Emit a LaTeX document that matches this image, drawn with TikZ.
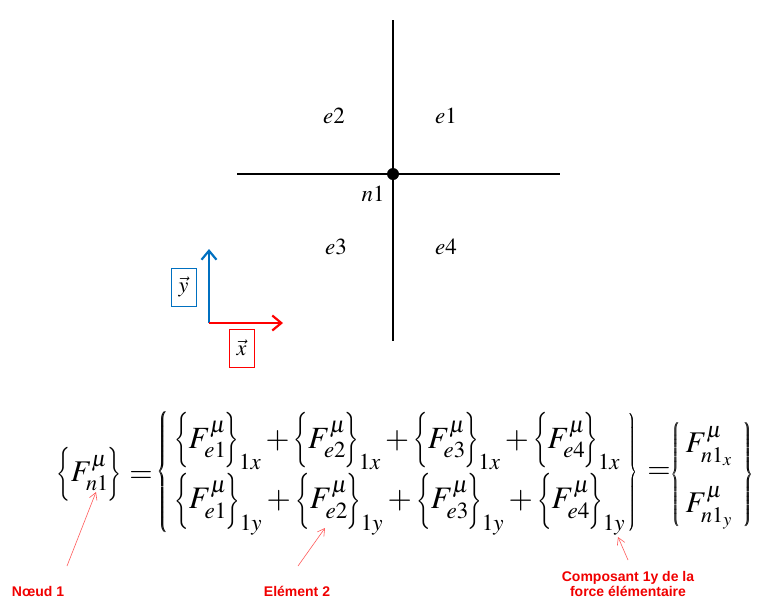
\documentclass[tikz,border=0pt]{standalone}
\usepackage{mathptmx}
\usepackage{graphicx}
\usepackage{fontspec}
\setmainfont{Liberation Serif}
\newfontfamily\notefont{Liberation Sans}
\usetikzlibrary{arrows.meta}
\definecolor{axblue}{RGB}{0,112,192}
\definecolor{axred}{RGB}{255,0,0}
\definecolor{notered}{RGB}{240,0,0}
\definecolor{ptrred}{RGB}{255,90,90}
\newcommand\lbr{\mathopen{\scalebox{0.7}[1]{$\Bigl\{$}}}
\newcommand\rbr{\mathclose{\scalebox{0.7}[1]{$\Bigr\}$}}}
\newcommand\eterm[2]{\lbr F^{\mu}_{#1}\mkern-1mu\rbr_{#2}}
\newcommand\lbrglyph{$\left\{\vrule height 50pt depth 50pt width 0pt\right.$}
\newcommand\rbrglyph{$\left.\vrule height 50pt depth 50pt width 0pt\right\}$}
\newcommand\bigbrace[3]{\resizebox*{#2}{#3}{\fontsize{15}{18}\selectfont\rlap{\lbrglyph}\kern1.1pt\lbrglyph}}
\newcommand\bigrbrace[3]{\resizebox*{#2}{#3}{\fontsize{15}{18}\selectfont\rlap{\rbrglyph}\kern1.1pt\rbrglyph}}
\tikzset{
  bar/.style={line width=2.2pt,black},
  nodedot/.style={circle,fill=black,inner sep=0pt,minimum size=12pt},
  elab/.style={inner sep=0pt,font=\fontsize{23}{27}\selectfont},
  axis/.style={line width=2.6pt,-{Straight Barb[length=9pt,width=15pt,line width=2.2pt]}},
  vbox/.style={draw,line width=1pt,minimum width=25pt,minimum height=38pt,inner sep=0pt,font=\fontsize{22}{26}\selectfont},
  eqn/.style={inner sep=0pt,font=\fontsize{30}{40}\selectfont},
  note/.style={inner sep=0pt,text=notered,align=center,font=\notefont\bfseries\fontsize{14}{15}\selectfont},
  ptr/.style={draw=ptrred,line width=0.6pt,-{Straight Barb[length=7pt,width=8pt]}}
}
\begin{document}
\begin{tikzpicture}[x=1pt,y=-1pt]
\useasboundingbox (0,0) rectangle (758,598);
% frame
\coordinate (vt) at (393,20);
\coordinate (vb) at (393,341);
\coordinate (hl) at (237,174);
\coordinate (hr) at (560,174);
\draw[bar] (vt) -- (vb);
\draw[bar] (hl) -- (hr);
\node[nodedot] (n1) at (393,174) {};
\node[elab] (e2) at (334,116) {$e2$};
\node[elab] (e1) at (446,116) {$e1$};
\node[elab] (n1lab) at (373,194) {$n1$};
\node[elab] (e3) at (336,247) {$e3$};
\node[elab] (e4) at (446,247) {$e4$};
% axes
\coordinate (O) at (209,323);
\coordinate (Y) at (209,249);
\coordinate (X) at (283,323);
\draw[axis,axblue] (O) -- (Y);
\draw[axis,axred] (O) -- (X);
\node[vbox,draw=axblue] (ybox) at (183.5,287) {$\vec{y}$};
\node[vbox,draw=axred] (xbox) at (241.5,348) {$\vec{x}$};
% equation
\node[eqn] (lhs) at (89,474) {$\lbr F^{\mu}_{n1}\mkern-1mu\rbr$};
\node[eqn] (eqa) at (141,477) {$=$};
\node[eqn] (obl) at (163,472) {\bigbrace{\{}{11pt}{121pt}};
\node[eqn,anchor=west] (row1) at (174,441) {\resizebox{446pt}{!}{$\eterm{e1}{1x}+\eterm{e2}{1x}+\eterm{e3}{1x}+\eterm{e4}{1x}$}};
\node[eqn,anchor=west] (row2) at (174,504) {\resizebox{451pt}{!}{$\eterm{e1}{1y}+\eterm{e2}{1y}+\eterm{e3}{1y}+\eterm{e4}{1y}$}};
\node[eqn] (obr) at (632.5,472) {\bigrbrace{\}}{10pt}{118pt}};
\node[eqn] (eqb) at (659,473) {$=$};
\node[eqn] (rbl) at (676,474.5) {\bigbrace{\{}{9pt}{105pt}};
\node[eqn] (fx) at (709,446) {$F^{\mu}_{n1_x}$};
\node[eqn] (fy) at (709,508) {$F^{\mu}_{n1_y}$};
\node[eqn] (rbr) at (748,474.5) {\bigrbrace{\}}{10pt}{105pt}};
% notes
\node[note] (noeud) at (38,591) {Nœud 1};
\node[note] (elem) at (297,591) {Elément 2};
\node[note] (comp) at (628,584) {Composant 1y de la\\force élémentaire};
\coordinate (p1s) at (67,566);
\coordinate (p1t) at (96,492);
\coordinate (p2s) at (298,566);
\coordinate (p2t) at (325,528);
\coordinate (p3s) at (628,560);
\coordinate (p3t) at (618,537);
\draw[ptr] (p1s) -- (p1t);
\draw[ptr] (p2s) -- (p2t);
\draw[ptr] (p3s) -- (p3t);
\end{tikzpicture}
\end{document}
